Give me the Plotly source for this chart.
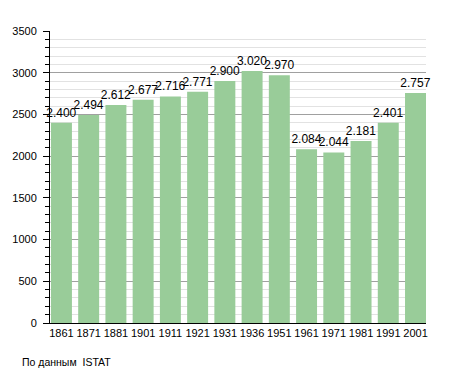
import plotly.graph_objects as go

years = ["1861", "1871", "1881", "1901", "1911", "1921", "1931", "1936",
         "1951", "1961", "1971", "1981", "1991", "2001"]
population = [2400, 2494, 2612, 2677, 2716, 2771, 2900, 3020,
              2970, 2084, 2044, 2181, 2401, 2757]
y_ticks = [0, 500, 1000, 1500, 2000, 2500, 3000, 3500]
source_note = "По данным  ISTAT"

font_family = "Liberation Sans, Arial, sans-serif"

fig = go.Figure()
fig.add_trace(go.Bar(
    x=years,
    y=population,
    marker=dict(color="#99cc99", line=dict(width=0)),
    texttemplate="%{y:,}",
    textposition="outside",
    constraintext="none",
    cliponaxis=False,
    textfont=dict(size=12, color="#000000", family=font_family),
    hoverinfo="skip",
))

fig.update_layout(
    width=455,
    height=373,
    margin=dict(l=50, r=29, t=31, b=50),
    plot_bgcolor="white",
    paper_bgcolor="white",
    separators=",.",
    bargap=0.23,
    showlegend=False,
    font=dict(family=font_family, size=11, color="#000000"),
    xaxis=dict(
        type="category",
        range=[-0.42, len(years) - 1 + 0.385],
        showline=True,
        linecolor="#000000",
        linewidth=1,
        ticks="",
        showgrid=False,
        tickfont=dict(size=11, family=font_family, color="#000000"),
    ),
    yaxis=dict(
        range=[0, 3500],
        tickvals=y_ticks,
        showline=True,
        linecolor="#000000",
        linewidth=1,
        ticks="outside",
        ticklen=6,
        tickcolor="#000000",
        ticklabelstandoff=4,
        showgrid=True,
        gridcolor="#a0a0a0",
        gridwidth=1,
        zeroline=False,
        tickfont=dict(size=11, family=font_family, color="#000000"),
        minor=dict(
            dtick=100,
            showgrid=True,
            gridcolor="#e2e2e2",
            gridwidth=1,
            ticks="outside",
            ticklen=4,
            tickcolor="#000000",
        ),
    ),
    annotations=[dict(
        text=source_note,
        xref="paper", yref="paper",
        x=-0.08, y=-0.134,
        xanchor="left", yanchor="middle",
        showarrow=False,
        font=dict(size=10.5, family=font_family, color="#000000"),
    )],
)

fig.write_html(
    "out.html",
    config={"displayModeBar": False, "staticPlot": True},
    post_script="document.body.style.margin='0';document.body.style.overflow='hidden';",
)
